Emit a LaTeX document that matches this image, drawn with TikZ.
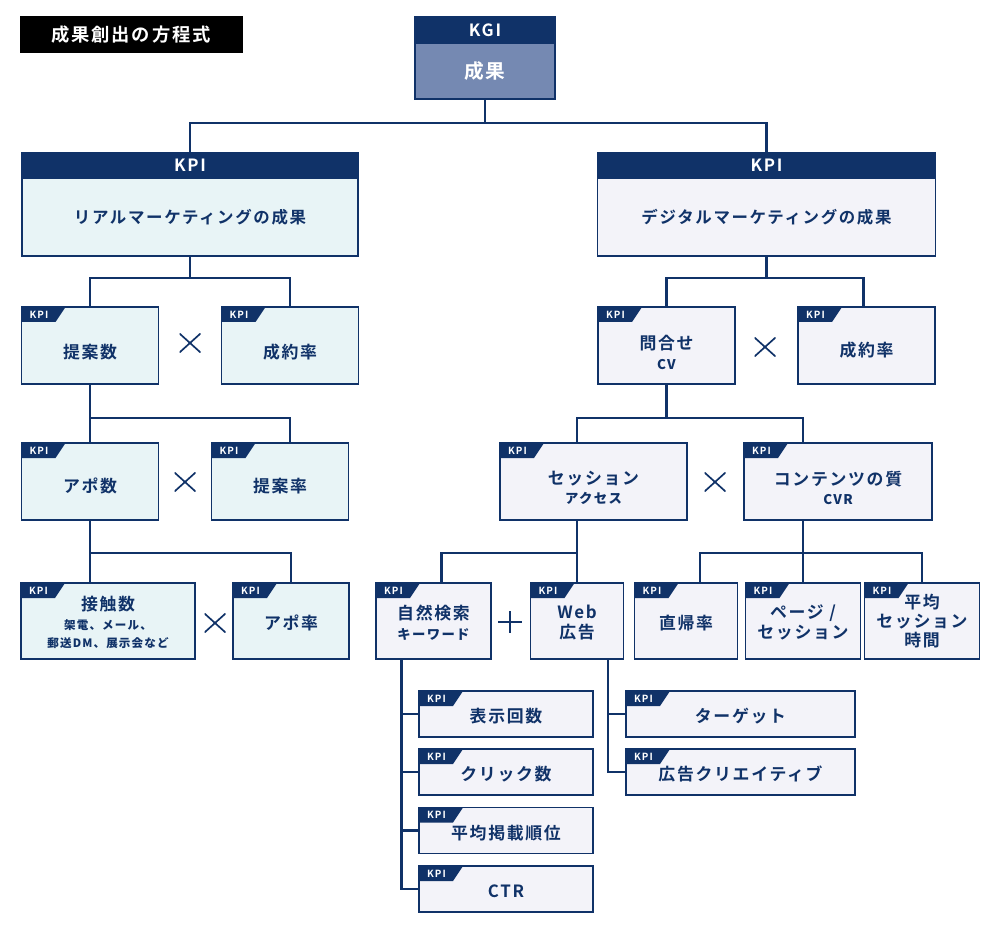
\documentclass[tikz,border=0pt]{standalone}
\usepackage{fontspec}
\setmainfont{Noto Sans CJK JP}[LetterSpace=10,BoldFont=* Bold]
\newfontfamily\medfont{Noto Sans CJK JP Medium}[LetterSpace=10]
\usetikzlibrary{positioning,calc}
\definecolor{navy}{RGB}{16,50,104}
\definecolor{realfill}{RGB}{232,244,246}
\definecolor{digifill}{RGB}{243,243,249}
\definecolor{kgifill}{RGB}{117,137,178}
\newcommand\mainlabel{\fontsize{12}{15.5}\selectfont\bfseries}
\newcommand\biglabel{\fontsize{11.7}{14}\selectfont\bfseries}
\newcommand\sublabel{\fontsize{9.5}{12}\selectfont\medfont}
\newcommand\tinylabel{\fontsize{8.2}{10}\selectfont\medfont}
\newcommand\taglabel{\fontsize{7}{7}\selectfont\bfseries}
\tikzset{
  wire/.style={draw=navy, line width=1.9pt},
  box/.style={draw=navy, line width=0.9pt, inner sep=0pt, outer sep=0pt,
    text=navy, align=center, font=\biglabel},
  realbox/.style={box, fill=realfill},
  digibox/.style={box, fill=digifill},
  hdr/.style={box, fill=navy, text=white, font=\fontsize{12}{12}\selectfont\bfseries},
  boxsize/.style 2 args={minimum width=#1*0.025cm, minimum height=#2*0.025cm},
  kpitag/.style={path picture={
    \fill[navy] (path picture bounding box.north west) -- ++(44,0) -- ++(-10,15) -- ++(-34,0) -- cycle;
    \path (path picture bounding box.north west) ++(17.5,7.5) node[font=\taglabel, text=white] {KPI};}},
  boxtext/.style={text=navy, align=center, font=\mainlabel},
  mulsign/.style={minimum width=21*0.025cm, minimum height=19*0.025cm, inner sep=0pt,
    path picture={\draw[navy, line width=1.2pt]
      (path picture bounding box.north west) -- (path picture bounding box.south east)
      (path picture bounding box.south west) -- (path picture bounding box.north east);}},
  plussign/.style={minimum width=24*0.025cm, minimum height=22*0.025cm, inner sep=0pt,
    path picture={\draw[navy, line width=1.2pt]
      (path picture bounding box.north) -- (path picture bounding box.south)
      (path picture bounding box.west) -- (path picture bounding box.east);}},
}
\begin{document}
\begin{tikzpicture}[x=0.025cm, y=-0.025cm]
  \useasboundingbox (0,0) rectangle (1000,925);
  % title and KGI
  \node[fill=black, text=white, boxsize={223}{37}, inner sep=0pt,
    font=\fontsize{13}{14}\selectfont\bfseries] (title) at (131,35) {成果創出の方程式};
  \node[hdr, boxsize={140}{26}] (kgihead) at (485,30) {KGI};
  \node[box, fill=kgifill, text=white, font=\fontsize{14}{15}\selectfont\bfseries,
    boxsize={140}{56}, below=0pt of kgihead] (kgi) {成果};
  % KPI headers
  \node[hdr, boxsize={336}{25}] (realhead) at (190,165.5) {KPI};
  \node[realbox, boxsize={336}{78}, below=0pt of realhead] (real) {リアルマーケティングの成果};
  \node[hdr, boxsize={338}{25}] (digihead) at (766.5,165.5) {KPI};
  \node[digibox, boxsize={338}{78}, below=0pt of digihead] (digi) {デジタルマーケティングの成果};
  % real side
  \node[realbox, kpitag, boxsize={137}{77}, label={[boxtext, yshift=-5pt]center:提案数}] (teian) at (90,345.5) {};
  \node[realbox, kpitag, boxsize={137}{77}, label={[boxtext, yshift=-5pt]center:成約率}] (seiyakuL) at (290,345.5) {};
  \node[realbox, kpitag, boxsize={137}{77}, label={[boxtext, yshift=-3pt]center:アポ数}] (apo) at (90,481.5) {};
  \node[realbox, kpitag, boxsize={137}{77}, label={[boxtext, yshift=-3pt]center:提案率}] (teianritsu) at (280,481.5) {};
  \node[realbox, kpitag, boxsize={174}{76},
    label={[boxtext, yshift=-1pt]center:接触数\\[-2pt]{\tinylabel 架電、メール、}\\[-3pt]{\tinylabel 郵送DM、展示会など}}] (setsushoku) at (108,621) {};
  \node[realbox, kpitag, boxsize={116}{76}, label={[boxtext, yshift=-1.5pt]center:アポ率}] (aporitsu) at (291,621) {};
  \node[mulsign] (mul1) at (190,343) {};
  \node[mulsign] (mul2) at (185,482) {};
  \node[mulsign] (mul3) at (215,623) {};
  % digital side
  \node[digibox, kpitag, boxsize={137}{77}, label={[boxtext, yshift=-5pt]center:問合せ\\[-1.5pt]{\sublabel CV}}] (toiawase) at (666.5,345.5) {};
  \node[digibox, kpitag, boxsize={137}{77}, label={[boxtext, yshift=-3pt]center:成約率}] (seiyakuR) at (866.5,345.5) {};
  \node[digibox, kpitag, boxsize={187}{77}, label={[boxtext, yshift=-4.5pt]center:セッション\\[-1.5pt]{\sublabel アクセス}}] (session) at (593.5,481.5) {};
  \node[digibox, kpitag, boxsize={188}{77}, label={[boxtext, yshift=-4.5pt]center:コンテンツの質\\[-1.5pt]{\sublabel CVR}}] (contents) at (838,481.5) {};
  \node[digibox, kpitag, boxsize={115}{76}, label={[boxtext, yshift=-1pt]center:自然検索\\[-1.5pt]{\sublabel キーワード}}] (shizen) at (433.5,621) {};
  \node[digibox, kpitag, boxsize={93}{76}, label={[boxtext, yshift=-1pt]center:Web\\[-1.5pt]広告}] (web) at (577,621) {};
  \node[digibox, kpitag, boxsize={103}{76}, label={[boxtext, yshift=-1.5pt]center:直帰率}] (chokki) at (686,621) {};
  \node[digibox, kpitag, boxsize={115}{76}, label={[boxtext, yshift=-1pt]center:ページ /\\[-1.5pt]セッション}] (page) at (803,621) {};
  \node[digibox, kpitag, boxsize={115}{76}, label={[boxtext]center:平均\\[-2pt]セッション\\[-2pt]時間}] (heikin) at (922,621) {};
  \node[mulsign] (mul4) at (765,347) {};
  \node[mulsign] (mul5) at (715,482) {};
  \node[plussign] (plus1) at (510,622) {};
  % search and ads
  \node[digibox, kpitag, boxsize={174}{46}, label={[boxtext, yshift=-1.5pt]center:表示回数}] (hyouji) at (506,714) {};
  \node[digibox, kpitag, boxsize={174}{46}, label={[boxtext, yshift=-1.5pt]center:クリック数}] (click) at (506,772) {};
  \node[digibox, kpitag, boxsize={174}{46}, label={[boxtext, yshift=-1.5pt]center:平均掲載順位}] (keisai) at (506,830.5) {};
  \node[digibox, kpitag, boxsize={174}{46}, label={[boxtext, yshift=-1.5pt]center:CTR}] (ctr) at (506,889) {};
  \node[digibox, kpitag, boxsize={229}{46}, label={[boxtext, yshift=-1.5pt]center:ターゲット}] (target) at (740.5,714) {};
  \node[digibox, kpitag, boxsize={229}{46}, label={[boxtext, yshift=-1.5pt]center:広告クリエイティブ}] (creative) at (740.5,772) {};
  % connectors
  \draw[wire] (kgi.south) -- ++(0,24) -| (realhead.north);
  \draw[wire] (kgi.south) -- ++(0,24) -| (digihead.north);
  \draw[wire] (real.south) -- ++(0,22) -| (teian.north);
  \draw[wire] (real.south) -- ++(0,22) -| (seiyakuL.north);
  \draw[wire] (teian.south) -- ++(0,34) -| ($(teianritsu.north)+(10,0)$);
  \draw[wire] (teian.south) -- (apo.north);
  \draw[wire] (apo.south) -- ++(0,33) -| (aporitsu.north);
  \draw[wire] (apo.south) -- (apo.south |- setsushoku.north);
  \draw[wire] (digi.south) -- ++(0,22) -| (toiawase.north);
  \draw[wire] (digi.south) -- ++(0,22) -| ($(seiyakuR.north)+(-3,0)$);
  \draw[wire] (toiawase.south) -- ++(0,34) -| (session.north -| web.north);
  \draw[wire] (toiawase.south) -- ++(0,34) -| (contents.north -| page.north);
  \draw[wire] (session.south -| web.north) -- (web.north);
  \draw[wire] (session.south -| web.north) -- ++(0,33) -| ($(shizen.north)+(8,0)$);
  \draw[wire] (contents.south -| page.north) -- (page.north);
  \draw[wire] (contents.south -| page.north) -- ++(0,33) -| ($(chokki.north)+(14,0)$);
  \draw[wire] (contents.south -| page.north) -- ++(0,33) -| (heikin.north);
  \coordinate (shizenrail) at ($(shizen.south)+(-32,0)$);
  \foreach \n in {hyouji,click,keisai,ctr}
    \draw[wire] (shizenrail) |- (\n.west);
  \coordinate (webrail) at ($(web.south)+(31,0)$);
  \foreach \n in {target,creative}
    \draw[wire] (webrail) |- (\n.west);
\end{tikzpicture}
\end{document}
